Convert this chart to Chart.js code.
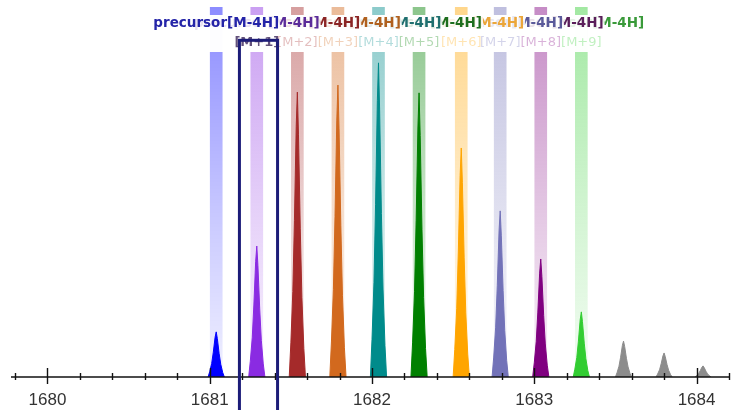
<!DOCTYPE html>
<html><head><meta charset="utf-8">
<script src="https://cdn.jsdelivr.net/npm/chart.js@4/dist/chart.umd.min.js"></script>
<style>html,body{margin:0;padding:0;background:#fff}</style>
</head><body>
<canvas id="c" width="744" height="410"></canvas>
<script>
// ---- data ----
const precursorLabel = 'precursor[M-4H]';
const isotopeLabels = ['', '[M+1]', '[M+2]', '[M+3]', '[M+4]', '[M+5]', '[M+6]', '[M+7]', '[M+8]', '[M+9]'];
const isotopeMz = [1681.04, 1681.29, 1681.54, 1681.79, 1682.04, 1682.29, 1682.55, 1682.79, 1683.04, 1683.29];
const isotopeColors = ['#0000FF', '#8A2BE2', '#A52A2A', '#D2691E', '#008B8B', '#008000', '#FFA500', '#7272B8', '#800080', '#32CD32'];
const labelColors = ['#2424A8', '#5B2C9A', '#8B2525', '#B0601E', '#1F6F6F', '#1E6E1E', '#EBA63A', '#5A5A9A', '#5A1E5A', '#3A9A3A'];
const peakMz = [1681.04, 1681.29, 1681.54, 1681.79, 1682.04, 1682.29, 1682.55, 1682.79, 1683.04, 1683.29, 1683.55, 1683.80, 1684.04];
const peakIntensity = [12.2, 35.4, 77.0, 78.9, 84.9, 76.8, 61.9, 44.9, 31.9, 17.6, 9.7, 6.5, 3.0];
const peakColors = ['#0000FF', '#8A2BE2', '#A52A2A', '#D2691E', '#008B8B', '#008000', '#FFA500', '#7272B8', '#800080', '#32CD32', '#8C8C8C', '#8C8C8C', '#8C8C8C'];
// measured peak profile (m/z offset from apex, fraction of apex height)
const profileOffset = [-0.05, -0.04, -0.028, -0.018, -0.007, 0, 0.007, 0.018, 0.028, 0.04, 0.05];
const profileShape = [0, 0.12, 0.3, 0.55, 0.88, 1, 0.85, 0.52, 0.28, 0.1, 0];
const bandTop = 100;
const selectedWindow = [1681.183, 1681.418];
const selectedTop = 91;
const xMin = 1679.8, xMax = 1684.2, xStep = 0.2;

function rgba(hex, a) {
  const n = parseInt(hex.slice(1), 16);
  return `rgba(${(n >> 16) & 255},${(n >> 8) & 255},${n & 255},${a})`;
}

const peakDatasets = peakMz.map((mz, i) => ({
  type: 'line',
  data: profileOffset.map((o, k) => ({ x: mz + o, y: peakIntensity[i] * profileShape[k] })),
  borderColor: peakColors[i],
  backgroundColor: peakColors[i],
  borderWidth: 1,
  fill: 'origin',
  pointRadius: 0,
  tension: 0,
  order: 1
}));

const bandDataset = {
  type: 'bar',
  data: isotopeMz.map(m => ({ x: m, y: bandTop })),
  barThickness: 12,
  borderWidth: 0,
  order: 20,
  backgroundColor: (ctx) => {
    const chart = ctx.chart, area = chart.chartArea;
    const col = isotopeColors[ctx.dataIndex] || '#000000';
    if (!area) return rgba(col, 0.3);
    const g = chart.ctx.createLinearGradient(0, area.top, 0, area.bottom);
    g.addColorStop(0, rgba(col, 0.45));
    g.addColorStop(0.6, rgba(col, 0.2));
    g.addColorStop(1, rgba(col, 0.06));
    return g;
  }
};

const overlay = {
  id: 'overlay',
  afterDraw(chart) {
    const ctx = chart.ctx, xs = chart.scales.x, ys = chart.scales.y;
    const base = chart.chartArea.bottom;
    ctx.save();
    // axis line and crossing ticks
    ctx.strokeStyle = '#111';
    ctx.lineWidth = 1.4;
    ctx.beginPath();
    ctx.moveTo(chart.chartArea.left - 4, base);
    ctx.lineTo(chart.chartArea.right + 1, base);
    ctx.stroke();
    xs.ticks.forEach(t => {
      const px = Math.round(xs.getPixelForValue(t.value)) + 0.5;
      const major = Math.abs(t.value - Math.round(t.value)) < 1e-6;
      ctx.beginPath();
      ctx.moveTo(px, base - (major ? 9 : 4));
      ctx.lineTo(px, base + (major ? 7 : 3));
      ctx.stroke();
    });
    // labels, earliest on top
    ctx.textAlign = 'center';
    ctx.textBaseline = 'middle';
    for (let i = isotopeMz.length - 1; i >= 0; i--) {
      const x = xs.getPixelForValue(isotopeMz[i]);
      ctx.font = 'bold 13.5px "DejaVu Sans"';
      const w = ctx.measureText(precursorLabel).width;
      ctx.fillStyle = 'rgba(255,255,255,0.86)';
      ctx.fillRect(x - w / 2 - 1, 15, w + 2, 37);
      ctx.fillStyle = labelColors[i];
      ctx.fillText(precursorLabel, x, 23.5);
    }
    for (let i = 0; i < isotopeMz.length; i++) {
      const x = xs.getPixelForValue(isotopeMz[i]);
      ctx.font = i === 1 ? 'bold 13px "DejaVu Sans"' : '13px "DejaVu Sans"';
      ctx.fillStyle = i === 1 ? 'rgba(70,50,100,0.85)' : rgba(isotopeColors[i], 0.3);
      ctx.fillText(isotopeLabels[i], x, 43);
    }
    // selection box
    const l = xs.getPixelForValue(selectedWindow[0]);
    const r = xs.getPixelForValue(selectedWindow[1]);
    const top = ys.getPixelForValue(selectedTop);
    ctx.strokeStyle = '#1C1C78';
    ctx.lineWidth = 3;
    ctx.strokeRect(l, top, r - l, chart.height + 10 - top);
    ctx.restore();
  }
};

new Chart(document.getElementById('c').getContext('2d'), {
  type: 'line',
  data: { datasets: [...peakDatasets, bandDataset] },
  options: {
    responsive: false,
    animation: false,
    devicePixelRatio: 1,
    layout: { padding: { left: 12, right: 10, top: 7, bottom: 0 } },
    plugins: { legend: { display: false }, tooltip: { enabled: false } },
    scales: {
      x: {
        type: 'linear', min: xMin, max: xMax, offset: false,
        afterFit: (scale) => { scale.height = 33; },
        grid: { display: false, drawTicks: false },
        border: { display: false },
        ticks: {
          stepSize: xStep, autoSkip: false, maxRotation: 0, padding: 15,
          color: '#333',
          font: { family: '"Liberation Sans", Arial, sans-serif', size: 17, lineHeight: 1 },
          callback: (v) => Math.abs(v - Math.round(v)) < 1e-6 ? String(Math.round(v)) : ''
        }
      },
      y: { display: false, min: 0, max: 100 }
    }
  },
  plugins: [overlay]
});
</script>
</body></html>
